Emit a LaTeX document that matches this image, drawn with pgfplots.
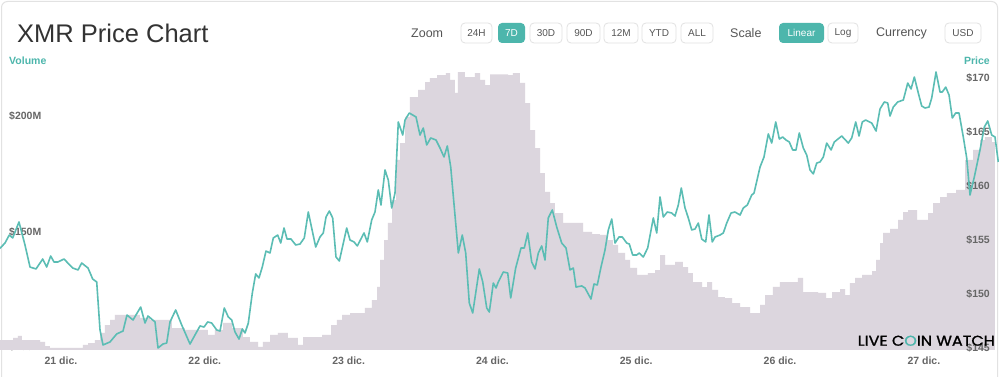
\documentclass[border=0pt]{standalone}
\usepackage{fontspec}
\setmainfont{Liberation Sans}
\newfontfamily\logofont{Poppins}[FakeBold=1.2]
\usepackage{graphicx}
\usepackage{pgfplots}
\pgfplotsset{compat=1.18}
\definecolor{teal1}{HTML}{5BBDB4}
\definecolor{tealbtn}{HTML}{4DB6AC}
\definecolor{volfill}{HTML}{DCD6DE}
\definecolor{lblgray}{HTML}{666666}
\definecolor{txtgray}{HTML}{555555}
\definecolor{titlegray}{HTML}{333333}
\definecolor{bordergray}{HTML}{E2E2E2}
\newcommand{\btn}[3]{%
  \draw[bordergray, line width=0.8pt, rounded corners=4pt, fill=white] (#1,334) rectangle (#2,354);
  \node[font=\fontsize{10}{12}\selectfont, text=txtgray, inner sep=0pt] at ({(#1+#2)/2},344) {#3};}
\newcommand{\btnon}[3]{%
  \fill[tealbtn, rounded corners=4pt] (#1,334) rectangle (#2,354);
  \node[font=\fontsize{10}{12}\selectfont, text=white, inner sep=0pt] at ({(#1+#2)/2},344) {#3};}
\begin{document}
\begin{tikzpicture}[x=1pt,y=1pt]
\begin{scope}[yshift=-27pt]
\fill[white] (0,0) rectangle (999,377);
\begin{scope}
\clip (0,0) rectangle (999,377);
\draw[bordergray, line width=1pt, rounded corners=6pt] (1.5,375.5) rectangle (997.5,-20);
\end{scope}
% title and controls
\node[anchor=west, inner sep=0pt, text=titlegray, font=\fontsize{25.5}{28}\selectfont] at (17,344) {XMR Price Chart};
\node[anchor=west, inner sep=0pt, text=txtgray, font=\fontsize{12.5}{14}\selectfont] at (411,344) {Zoom};
\btn{461}{492}{24H}
\btnon{498}{525}{7D}
\btn{530}{562}{30D}
\btn{567}{600}{90D}
\btn{604}{638}{12M}
\btn{642}{676}{YTD}
\btn{681}{713}{ALL}
\node[anchor=west, inner sep=0pt, text=txtgray, font=\fontsize{12.5}{14}\selectfont] at (730,344) {Scale};
\btnon{779}{824}{Linear}
\btn{828}{858}{Log}
\node[anchor=west, inner sep=0pt, text=txtgray, font=\fontsize{12.5}{14}\selectfont] at (876,344) {Currency};
\btn{945}{981}{USD}
% axis titles
\node[anchor=west, inner sep=0pt, text=tealbtn, font=\bfseries\fontsize{10.5}{12}\selectfont] at (9,316.5) {Volume};
\node[anchor=east, inner sep=0pt, text=tealbtn, font=\bfseries\fontsize{10.5}{12}\selectfont] at (990,316.5) {Price};
\end{scope}
% volume axis (lower left corner at the origin)
\begin{axis}[
  scale only axis,
  width=999pt, height=285pt,
  xmin=-10.18, xmax=156.54, ymin=98.70, ymax=222.08,
  axis line style={draw=none}, tick style={draw=none}, major tick length=0pt,
  /pgf/number format/assume math mode=true,
  xtick={0,24,48,72,96,120,144},
  xticklabels={21 dic.,22 dic.,23 dic.,24 dic.,25 dic.,26 dic.,27 dic.},
  xticklabel style={overlay, anchor=north, inner sep=0pt, yshift=-6.5pt, font=\bfseries\fontsize{10.5}{12}\selectfont, text=lblgray},
  ytick={100,150,200},
  yticklabels={\$100M,\$150M,\$200M},
  yticklabel style={overlay, anchor=west, inner sep=0pt, xshift=9pt, font=\bfseries\fontsize{10.5}{12}\selectfont, text=lblgray},
]
\addplot[const plot, fill=volfill, draw=none] coordinates {
(-10.18,98.70) (-10.18,103.0) (-8.01,103.9) (-7.18,104.8) (-6.51,103.0) (-3.50,102.2) (-2.67,100.4) (-1.84,99.6) (3.67,100.9) (4.51,101.7) (5.67,103.0) (6.51,106.1) (7.34,109.5) (8.18,111.7) (9.01,113.9) (13.18,112.6) (14.85,111.7) (18.52,108.2) (20.69,107.4) (24.53,105.2) (25.70,107.4) (27.04,110.4) (28.54,108.2) (30.37,104.3) (31.54,102.2) (32.88,100.0) (33.71,102.2) (34.88,105.2) (36.21,106.1) (37.88,103.9) (39.55,100.9) (40.39,104.3) (43.56,105.2) (45.06,109.5) (46.06,111.7) (46.90,113.9) (48.23,114.7) (50.73,116.9) (51.90,120.3) (52.74,126.0) (53.24,137.7) (53.91,146.3) (54.57,153.7) (55.24,163.6) (55.91,181.0) (56.58,188.3) (57.41,199.6) (58.24,208.2) (59.58,211.3) (60.75,214.7) (61.58,216.4) (62.75,217.7) (64.25,218.6) (64.92,215.6) (65.75,210.0) (66.25,219.0) (67.42,216.8) (69.09,218.6) (69.93,215.6) (70.76,213.4) (71.60,218.0) (74.60,217.7) (75.43,218.6) (76.60,214.3) (77.44,205.6) (78.27,193.9) (79.11,186.1) (79.94,175.3) (80.77,167.1) (81.61,162.3) (82.44,158.0) (83.78,153.7) (87.12,149.8) (88.62,148.9) (89.95,148.5) (91.12,146.3) (92.12,144.2) (92.96,140.7) (94.13,137.7) (94.96,134.2) (96.13,131.2) (97.96,132.0) (99.13,133.3) (99.97,139.8) (100.80,135.5) (102.47,136.8) (103.80,134.6) (104.64,132.0) (105.47,128.1) (106.98,125.9) (107.81,128.1) (108.65,124.7) (109.65,121.6) (110.81,121.2) (111.98,119.0) (113.32,117.3) (114.99,114.7) (116.66,118.2) (117.49,122.5) (118.82,126.0) (119.99,128.1) (122.99,129.9) (123.83,123.8) (126.34,123.4) (127.67,121.2) (128.67,123.8) (130.01,125.1) (130.84,122.5) (131.67,127.7) (132.51,129.9) (133.68,131.2) (135.35,132.8) (136.02,137.7) (136.68,145.0) (137.18,149.4) (138.35,151.1) (139.69,155.0) (140.52,158.4) (141.36,159.3) (142.86,155.0) (144.69,158.0) (145.53,162.3) (146.70,164.9) (147.86,166.6) (149.37,168.0) (150.87,181.0) (152.20,185.3) (153.37,189.6) (154.20,190.9) (155.37,188.7) (155.87,188.7) (155.87,98.70)
};
\end{axis}
% price axis (lower left corner at the origin)
\begin{axis}[
  scale only axis,
  width=999pt, height=285pt,
  xmin=-10.18, xmax=156.54, ymin=144.815, ymax=171.18,
  axis line style={draw=none}, tick style={draw=none}, major tick length=0pt,
  /pgf/number format/assume math mode=true,
  xtick=\empty,
  yticklabel pos=right,
  ytick={145,150,155,160,165,170},
  yticklabels={\$145,\$150,\$155,\$160,\$165,\$170},
  yticklabel style={overlay, anchor=east, inner sep=0pt, xshift=-9pt, font=\bfseries\fontsize{10.5}{12}\selectfont, text=lblgray},
]
\addplot[teal1, line width=1.6pt, line join=round] coordinates {
(-10.18,154.22) (-9.35,154.71) (-8.63,155.45) (-8.06,155.18) (-7.01,156.66) (-6.01,154.53) (-5.17,152.49) (-4.17,152.31) (-3.05,153.23) (-2.39,152.49) (-1.72,153.51) (-1.17,152.96) (-0.50,152.96) (0.50,153.23) (1.95,152.40) (2.84,152.22) (3.45,152.86) (4.51,152.40) (5.29,151.38) (5.96,151.11) (6.51,146.67) (7.01,145.28) (8.18,145.56) (9.30,146.30) (10.35,146.57) (11.01,148.05) (12.02,147.59) (13.30,148.79) (14.02,147.31) (14.52,147.96) (15.69,147.41) (16.19,145.00) (17.02,145.37) (17.64,145.46) (18.19,147.41) (19.14,148.52) (20.14,147.13) (21.53,145.37) (22.36,146.20) (23.20,147.04) (23.87,146.94) (24.48,147.41) (25.15,147.31) (25.98,146.67) (26.54,146.57) (27.25,148.70) (27.92,147.87) (28.49,147.59) (29.04,146.48) (29.71,145.83) (30.26,146.76) (30.71,146.39) (31.26,147.31) (31.93,150.09) (32.49,151.85) (33.04,151.48) (33.59,152.49) (34.21,153.97) (34.88,153.79) (35.43,155.18) (36.16,155.45) (36.67,154.71) (37.22,156.10) (37.72,155.08) (38.38,155.08) (39.17,154.53) (39.89,154.62) (40.60,155.18) (41.27,157.58) (42.51,154.34) (43.22,155.27) (43.77,155.64) (44.23,157.12) (44.78,157.67) (45.34,157.03) (45.89,153.42) (46.45,153.05) (47.68,156.10) (48.23,154.99) (48.90,154.81) (49.45,154.44) (50.57,155.64) (51.12,154.81) (51.85,156.84) (52.40,157.58) (52.95,159.62) (53.40,158.23) (54.07,161.47) (54.62,160.54) (55.19,157.95) (55.74,159.34) (56.29,165.91) (57.03,164.70) (57.41,166.09) (58.13,166.74) (59.25,166.37) (59.91,164.70) (60.46,165.35) (61.03,163.78) (61.70,164.43) (62.58,164.24) (63.25,163.50) (63.92,162.67) (64.47,163.69) (65.04,161.74) (66.31,153.79) (66.97,155.45) (67.54,153.79) (68.14,149.16) (68.71,148.24) (69.81,152.31) (70.38,151.11) (71.05,148.70) (71.48,148.33) (72.15,151.01) (72.60,150.55) (72.98,151.11) (73.81,152.03) (74.55,151.94) (75.05,149.63) (75.88,152.40) (76.77,154.25) (77.32,154.25) (77.89,155.64) (78.55,152.96) (79.11,152.31) (79.66,153.79) (80.22,154.44) (80.77,153.14) (81.32,157.03) (81.99,157.77) (82.73,156.19) (83.56,154.71) (84.28,154.25) (84.95,152.22) (85.50,152.40) (85.95,150.64) (86.90,150.74) (87.45,150.55) (88.45,149.53) (88.95,150.92) (89.50,150.83) (90.12,152.49) (90.79,154.07) (91.34,155.92) (91.91,156.93) (92.46,154.71) (93.12,155.27) (93.67,155.27) (94.41,154.71) (94.84,154.62) (95.41,153.60) (96.08,153.60) (96.51,153.79) (97.18,153.42) (97.91,154.25) (98.85,157.03) (99.42,155.64) (99.97,158.97) (100.52,157.12) (101.18,157.58) (101.92,157.49) (102.47,157.21) (103.02,158.23) (103.52,159.80) (104.14,157.95) (104.69,157.03) (105.26,155.92) (105.81,156.01) (106.36,156.56) (106.93,155.08) (107.59,154.81) (108.14,157.30) (108.69,154.81) (109.15,155.27) (109.98,155.45) (110.53,155.64) (111.10,156.56) (111.82,157.49) (112.48,157.58) (113.32,157.30) (113.87,157.95) (114.54,158.23) (115.27,159.15) (115.66,159.34) (116.66,161.74) (117.32,162.67) (118.04,164.80) (118.61,163.96) (119.28,165.91) (119.88,164.33) (120.44,164.52) (120.99,164.24) (121.54,164.06) (122.11,163.32) (122.66,163.32) (123.21,164.89) (123.88,163.50) (124.45,162.85) (125.00,161.47) (125.55,161.10) (126.12,162.11) (126.67,162.21) (127.22,162.67) (127.79,163.96) (128.51,163.32) (129.06,164.06) (130.29,164.61) (131.39,163.96) (131.96,164.43) (132.63,165.91) (133.18,164.61) (133.73,165.91) (134.29,166.09) (135.30,165.81) (136.02,165.07) (136.68,167.11) (137.40,167.76) (137.97,167.66) (138.35,166.46) (138.90,167.29) (139.64,167.76) (140.57,167.94) (141.31,169.51) (141.86,168.96) (142.41,170.07) (143.07,168.59) (143.64,167.39) (144.19,167.20) (144.86,167.29) (145.31,168.13) (146.03,170.53) (146.70,168.68) (147.08,168.68) (147.65,169.14) (148.20,168.40) (148.75,166.28) (149.31,166.74) (149.87,166.74) (150.58,164.52) (151.15,162.58) (151.70,159.15) (152.42,160.82) (153.37,163.32) (154.09,165.44) (154.66,166.00) (155.32,164.70) (155.87,164.52) (156.42,162.21)
};
\end{axis}
% logo
\begin{scope}[yshift=-27pt]
\node[anchor=south east, inner sep=0pt] at (995,31) {\resizebox{137pt}{10pt}{\logofont LIVE C{\color{tealbtn}O}IN WATCH}};
\end{scope}
\pgfresetboundingbox
\useasboundingbox (0,-27) rectangle (999,350);
\end{tikzpicture}
\end{document}
